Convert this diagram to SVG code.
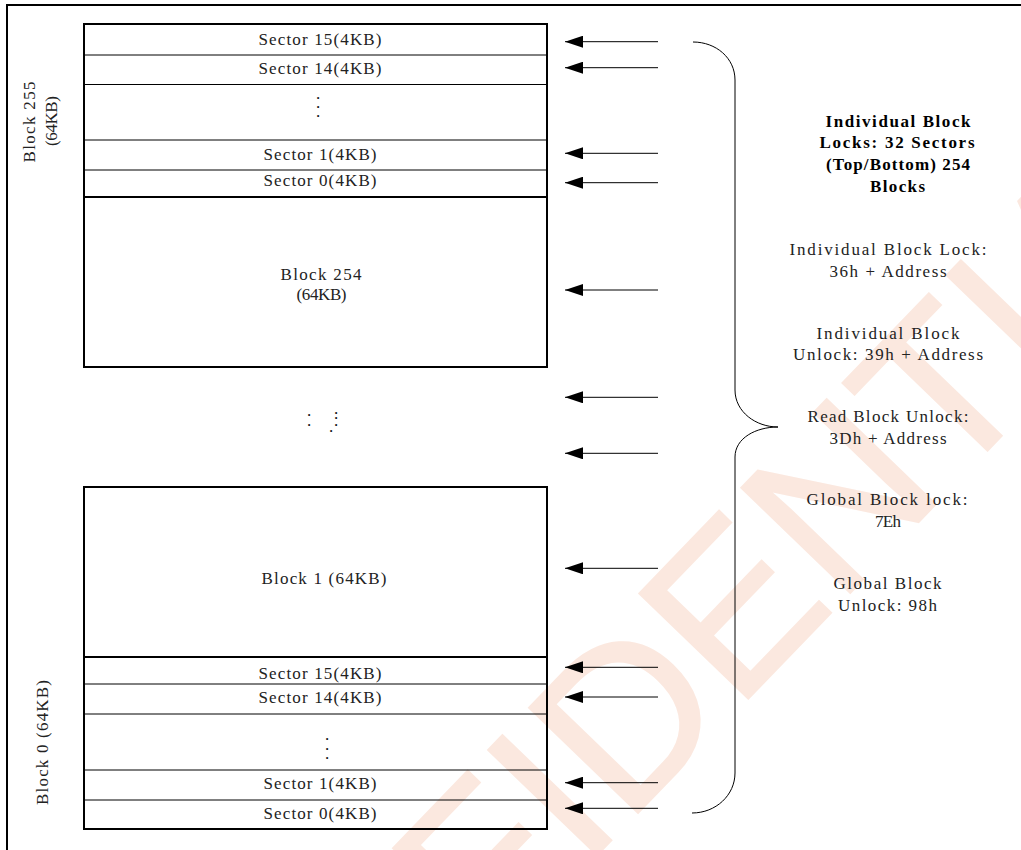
<svg xmlns="http://www.w3.org/2000/svg" width="1021" height="850" viewBox="0 0 1021 850">
<defs>
<style>
.t{font-family:"Liberation Serif","Times New Roman",serif;font-size:17px;fill:#222;text-anchor:middle}
.b{font-family:"Liberation Serif","Times New Roman",serif;font-size:17px;font-weight:bold;fill:#000;text-anchor:middle}
.dots{font-family:"Liberation Serif","Times New Roman",serif;font-size:17px;fill:#111;text-anchor:middle}
.thin{stroke:#000;stroke-width:1;fill:none}
.thick{stroke:#000;stroke-width:2;fill:none}
.arr{stroke:#000;stroke-width:1;fill:none;marker-end:url(#ah)}
.wm{font-family:"Liberation Sans Narrow","Liberation Sans",Arial,sans-serif;font-size:220px;fill:#fbe8df;stroke:#fbe8df;stroke-width:2}
</style>
<marker id="ah" markerUnits="userSpaceOnUse" markerWidth="18" markerHeight="12" refX="18" refY="6" orient="auto">
<path d="M0,0 L18,6 L0,12 z" fill="#000"/>
</marker>
</defs>
<rect width="1021" height="850" fill="#fff"/>
<g id="watermark">
<text class="wm" transform="translate(150,1318) rotate(-46)">CONFIDENTIAL</text>
</g>
<path id="frame" d="M7,851 V5 H1022" class="thick"/>

<g id="block255">
<rect x="84" y="24" width="463" height="343" class="thick"/>
<line x1="84" y1="55" x2="547" y2="55" class="thin"/>
<line x1="84" y1="84.5" x2="547" y2="84.5" class="thin"/>
<line x1="84" y1="140" x2="547" y2="140" class="thin"/>
<line x1="84" y1="170" x2="547" y2="170" class="thin"/>
<line x1="84" y1="197" x2="547" y2="197" class="thick"/>
<text class="t" x="320" y="45" textLength="123" lengthAdjust="spacing">Sector 15(4KB)</text>
<text class="t" x="320" y="74" textLength="123" lengthAdjust="spacing">Sector 14(4KB)</text>
<text class="dots" x="318" y="99">.<tspan x="318" dy="9">.</tspan><tspan x="318" dy="9">.</tspan></text>
<text class="t" x="320" y="160" textLength="113" lengthAdjust="spacing">Sector 1(4KB)</text>
<text class="t" x="320" y="186" textLength="113" lengthAdjust="spacing">Sector 0(4KB)</text>
<text class="t" transform="translate(35,122) rotate(-90)" textLength="81" lengthAdjust="spacing">Block 255</text>
<text class="t" transform="translate(57,121) rotate(-90)" textLength="50" lengthAdjust="spacing">(64KB)</text>
</g>

<g id="block254">
<text class="t" x="321" y="280" textLength="81" lengthAdjust="spacing">Block 254</text>
<text class="t" x="321.5" y="300" textLength="50" lengthAdjust="spacing">(64KB)</text>
</g>

<g id="ellipsis">
<text class="dots" x="309" y="416">.<tspan x="309" dy="10">.</tspan><tspan x="336" dy="-12">.</tspan><tspan x="336" dy="5">.</tspan><tspan x="336" dy="6.5">.</tspan><tspan x="331" dy="6">.</tspan></text>
</g>

<g id="block1">
<rect x="84" y="487" width="463" height="342" class="thick"/>
<line x1="84" y1="657" x2="547" y2="657" class="thick"/>
<text class="t" x="324" y="584" textLength="125" lengthAdjust="spacing">Block 1 (64KB)</text>
</g>

<g id="block0">
<line x1="84" y1="684" x2="547" y2="684" class="thin"/>
<line x1="84" y1="714" x2="547" y2="714" class="thin"/>
<line x1="84" y1="770" x2="547" y2="770" class="thin"/>
<line x1="84" y1="800" x2="547" y2="800" class="thin"/>
<text class="t" x="320" y="679" textLength="123" lengthAdjust="spacing">Sector 15(4KB)</text>
<text class="t" x="320" y="703" textLength="123" lengthAdjust="spacing">Sector 14(4KB)</text>
<text class="dots" x="327" y="740">.<tspan x="327" dy="9.5">.</tspan><tspan x="327" dy="9">.</tspan></text>
<text class="t" x="320" y="789" textLength="113" lengthAdjust="spacing">Sector 1(4KB)</text>
<text class="t" x="320" y="819" textLength="113" lengthAdjust="spacing">Sector 0(4KB)</text>
<text class="t" transform="translate(48,742.5) rotate(-90)" textLength="125" lengthAdjust="spacing">Block 0 (64KB)</text>
</g>

<g id="connectors">
<line x1="658" y1="41.7" x2="565" y2="41.7" class="arr"/>
<line x1="658" y1="67.7" x2="565" y2="67.7" class="arr"/>
<line x1="658" y1="153.3" x2="565" y2="153.3" class="arr"/>
<line x1="658" y1="182.7" x2="565" y2="182.7" class="arr"/>
<line x1="658" y1="290" x2="565" y2="290" class="arr"/>
<line x1="658" y1="397.3" x2="565" y2="397.3" class="arr"/>
<line x1="658" y1="453.3" x2="565" y2="453.3" class="arr"/>
<line x1="658" y1="568.3" x2="565" y2="568.3" class="arr"/>
<line x1="658" y1="667.3" x2="565" y2="667.3" class="arr"/>
<line x1="658" y1="697" x2="565" y2="697" class="arr"/>
<line x1="658" y1="782.7" x2="565" y2="782.7" class="arr"/>
<line x1="658" y1="808.3" x2="565" y2="808.3" class="arr"/>
<path id="brace" class="thin" d="M693,42 C716,42 735,58 735,80 V390 C735,412 756,427 778,427 C756,427 735,438 735,457 V773 C735,795 716,813 692,813"/>
</g>

<g id="legend">
<text class="b" x="898" y="126.5" textLength="145" lengthAdjust="spacing">Individual Block</text>
<text class="b" x="897" y="148" textLength="155" lengthAdjust="spacing">Locks: 32 Sectors</text>
<text class="b" x="898" y="169.5" textLength="144" lengthAdjust="spacing">(Top/Bottom) 254</text>
<text class="b" x="897.5" y="191.5" textLength="55" lengthAdjust="spacing">Blocks</text>
<text class="t" x="888" y="255" textLength="197" lengthAdjust="spacing">Individual Block Lock:</text>
<text class="t" x="888" y="277" textLength="117" lengthAdjust="spacing">36h + Address</text>
<text class="t" x="888" y="338.5" textLength="143" lengthAdjust="spacing">Individual Block</text>
<text class="t" x="888" y="360" textLength="190" lengthAdjust="spacing">Unlock: 39h + Address</text>
<text class="t" x="888" y="422" textLength="161" lengthAdjust="spacing">Read Block Unlock:</text>
<text class="t" x="888" y="444" textLength="117" lengthAdjust="spacing">3Dh + Address</text>
<text class="t" x="887" y="505" textLength="161" lengthAdjust="spacing">Global Block lock:</text>
<text class="t" x="888" y="527" textLength="26" lengthAdjust="spacing">7Eh</text>
<text class="t" x="887.5" y="589" textLength="108" lengthAdjust="spacing">Global Block</text>
<text class="t" x="887.5" y="611" textLength="99" lengthAdjust="spacing">Unlock: 98h</text>
</g>
</svg>
